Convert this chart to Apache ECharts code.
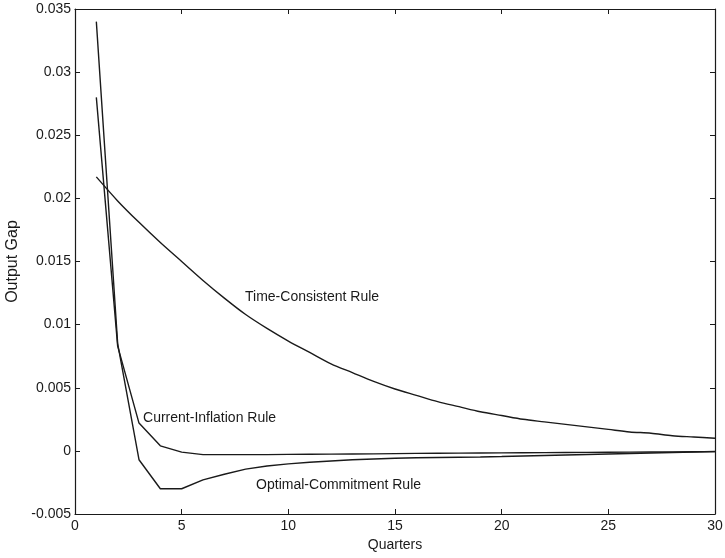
<!DOCTYPE html>
<html lang="en">
<head>
    <meta charset="UTF-8">
    <title>Output Gap</title>
    <style>
        body { margin: 0; background: #fff; }
    </style>
</head>
<body>

    <div id="echarts" style="width: 725px; height: 558px"></div>
    <script src="https://cdn.jsdelivr.net/npm/echarts@6/dist/echarts.min.js"></script>
    <script>
        // quarters 1..30
        const quarters = [1, 2, 3, 4, 5, 6, 7, 8, 9, 10, 11, 12, 13, 14, 15,
            16, 17, 18, 19, 20, 21, 22, 23, 24, 25, 26, 27, 28, 29, 30];

        const timeConsistent = [0.0217, 0.0198, 0.0181, 0.0165, 0.0150, 0.0135, 0.0121, 0.0108, 0.0097, 0.0087,
            0.0078, 0.0069, 0.0062, 0.0055, 0.0049, 0.0044, 0.0039, 0.0035, 0.0031, 0.0028,
            0.0025, 0.0023, 0.0021, 0.0019, 0.0017, 0.0015, 0.0014, 0.0012, 0.0011, 0.0010];

        const currentInflation = [0.0280, 0.0083, 0.0022, 0.0004, -0.0001, -0.0003, -0.0003, -0.0003, -0.0003, -0.00028,
            -0.00027, -0.00026, -0.00025, -0.00024, -0.00022, -0.0002, -0.00019, -0.00018, -0.00017, -0.00016,
            -0.00015, -0.00014, -0.00013, -0.00012, -0.00011, -0.0001, -0.00009, -0.00008, -0.00007, -0.00006];

        const optimalCommitment = [0.0340, 0.0085, -0.0007, -0.0030, -0.0030, -0.0023, -0.00185, -0.00145, -0.0012, -0.00103,
            -0.0009, -0.0008, -0.0007, -0.00064, -0.00058, -0.00055, -0.00052, -0.0005, -0.00048, -0.00045,
            -0.00041, -0.00037, -0.00033, -0.00029, -0.00025, -0.00021, -0.00017, -0.00013, -0.00009, -0.00005];

        // curve labels, anchored at the left/middle of the text: [quarter, value]
        const labelNames = ['Time-Consistent Rule', 'Current-Inflation Rule', 'Optimal-Commitment Rule'];
        const labelAt = [[7.97, 0.0122], [3.19, 0.0026], [8.49, -0.0027]];

        const font = '"Liberation Sans", Arial, sans-serif';
        const ink = '#1a1a1a';

        function pairs(vals) {
            return quarters.map((q, i) => [q, vals[i]]);
        }

        function fmt(v) {
            return String(+v.toFixed(3));
        }

        const boxAxis = {
            min: 0, max: 30, interval: 5,
            axisLine: { show: true, onZero: false, lineStyle: { color: ink, width: 1.2 } },
            axisTick: { show: true, inside: true, length: 5, lineStyle: { color: ink } },
            splitLine: { show: false }
        };

        const makeSeries = (name, vals, idx, smooth) => ({
            name: name,
            type: 'line',
            data: pairs(vals),
            smooth: smooth,
            showSymbol: false,
            symbol: 'none',
            lineStyle: { color: ink, width: 1.4 },
            markPoint: {
                symbol: 'circle',
                symbolSize: 0,
                data: [{ coord: labelAt[idx] }],
                label: {
                    show: true,
                    position: 'right',
                    distance: 0,
                    formatter: labelNames[idx],
                    color: ink,
                    fontFamily: font,
                    fontSize: 14
                }
            }
        });

        const option = {
            animation: false,
            grid: { left: 75, right: 10, top: 9, bottom: 44, containLabel: false, outerBoundsMode: 'none' },
            xAxis: [
                Object.assign({}, boxAxis, {
                    type: 'value',
                    position: 'bottom',
                    name: 'Quarters',
                    nameLocation: 'middle',
                    nameGap: 23,
                    nameTextStyle: { color: ink, fontFamily: font, fontSize: 14 },
                    axisLabel: { color: ink, fontFamily: font, fontSize: 14, margin: 5 }
                }),
                Object.assign({}, boxAxis, {
                    type: 'value',
                    position: 'top',
                    axisLabel: { show: false }
                })
            ],
            yAxis: [
                Object.assign({}, boxAxis, {
                    type: 'value',
                    min: -0.005, max: 0.035, interval: 0.005,
                    position: 'left',
                    name: 'Output Gap',
                    nameLocation: 'middle',
                    nameGap: 46,
                    nameTextStyle: { color: ink, fontFamily: font, fontSize: 16 },
                    axisLabel: { color: ink, fontFamily: font, fontSize: 14, margin: 4, formatter: fmt }
                }),
                Object.assign({}, boxAxis, {
                    type: 'value',
                    min: -0.005, max: 0.035, interval: 0.005,
                    position: 'right',
                    axisLabel: { show: false }
                })
            ],
            series: [
                makeSeries('Time-Consistent Rule', timeConsistent, 0, 0.3),
                makeSeries('Current-Inflation Rule', currentInflation, 1, false),
                makeSeries('Optimal-Commitment Rule', optimalCommitment, 2, false)
            ]
        };

        var chartDom = document.getElementById("echarts");
        var myChart = echarts.init(chartDom);
        myChart.setOption(option);
    </script>
</body>
</html>
